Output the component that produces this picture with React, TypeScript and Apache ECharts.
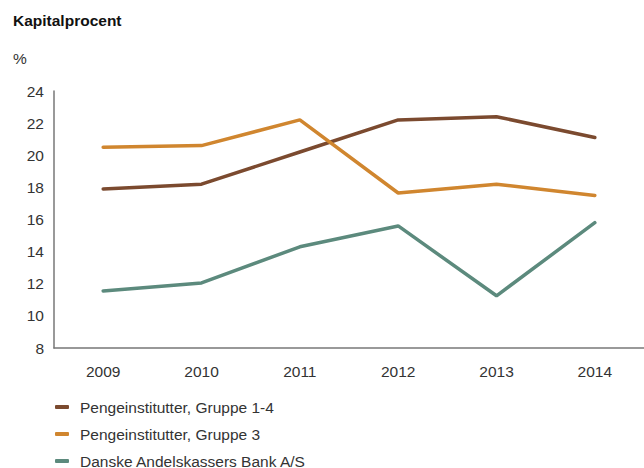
import React, { useEffect, useRef } from "react";
import * as echarts from "echarts";

const years = ["2009", "2010", "2011", "2012", "2013", "2014"];
const gruppe14 = [17.9, 18.2, 20.2, 22.2, 22.4, 21.1];
const gruppe3 = [20.5, 20.6, 22.2, 17.65, 18.2, 17.5];
const danske = [11.55, 12.05, 14.3, 15.6, 11.25, 15.8];
const seriesNames = [
  "Pengeinstitutter, Gruppe 1-4",
  "Pengeinstitutter, Gruppe 3",
  "Danske Andelskassers Bank A/S",
];
const colors = ["#7b4a2f", "#d0862f", "#5c8a7d"];

export default function App() {
  const ref = useRef<HTMLDivElement>(null);
  useEffect(() => {
    if (!ref.current) return;
    const chart = echarts.init(ref.current, null, { renderer: "svg" });
    const font = "'Liberation Sans', Arial, sans-serif";
    const data = [gruppe14, gruppe3, danske];
    chart.setOption({
      animation: false,
      textStyle: { fontFamily: font },
      title: {
        text: "Kapitalprocent",
        left: 8,
        top: 7,
        textStyle: { fontSize: 15.5, fontWeight: "bold", color: "#111", fontFamily: font },
      },
      graphic: [
        {
          type: "text",
          left: 13,
          top: 50,
          style: { text: "%", fontSize: 15.5, fill: "#333", fontFamily: font },
        },
      ],
      grid: { left: 54, right: 0, top: 91, bottom: 120, containLabel: false },
      legend: {
        orient: "vertical",
        left: 50,
        top: 394,
        height: 80,
        itemWidth: 14,
        itemHeight: 4,
        itemGap: 11,
        icon: "roundRect",
        textStyle: { fontSize: 15.5, color: "#333", fontFamily: font, padding: [0, 0, 0, 6] },
        data: seriesNames,
      },
      xAxis: {
        type: "category",
        data: years,
        boundaryGap: true,
        axisLine: { lineStyle: { color: "#777", width: 1.5 } },
        axisTick: { show: false },
        axisLabel: { fontSize: 15.5, color: "#333", margin: 15, fontFamily: font },
      },
      yAxis: {
        type: "value",
        min: 8,
        max: 24,
        interval: 2,
        axisLine: { show: true, lineStyle: { color: "#777", width: 1.5 } },
        axisTick: { show: false },
        splitLine: { show: false },
        axisLabel: { fontSize: 15.5, color: "#333", margin: 10, fontFamily: font },
      },
      series: seriesNames.map((name, i) => ({
        name,
        type: "line",
        data: data[i],
        symbol: "none",
        lineStyle: { color: colors[i], width: 3.5, cap: "round" },
        itemStyle: { color: colors[i] },
      })),
    });
    return () => chart.dispose();
  }, []);
  return (
    <div
      ref={ref}
      style={{ position: "fixed", left: 0, top: 0, width: 644, height: 468, background: "#fff" }}
    />
  );
}
